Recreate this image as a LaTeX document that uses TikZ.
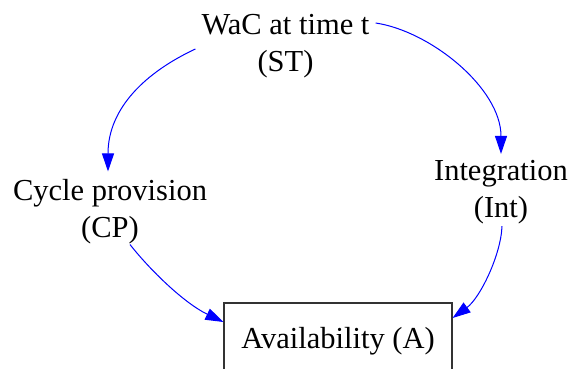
\documentclass[tikz,border=0pt]{standalone}
\usepackage{fontspec}
\setmainfont{Liberation Serif}
\usetikzlibrary{arrows.meta}
\begin{document}
\begin{tikzpicture}[x=1pt,y=-1pt,
  lbl/.style={inner sep=0pt, align=center, font=\fontsize{30.5}{37}\selectfont},
  box/.style={draw=black!80, line width=1.2pt, inner sep=0pt, minimum width=228pt, minimum height=76pt, font=\fontsize{30.5}{37}\selectfont},
  edge/.style={draw=blue, line width=1pt, -{Triangle[length=18pt,width=12pt]}}]
\useasboundingbox (0,0) rectangle (570,369);
\clip (0,0) rectangle (570,369);
\node[lbl] (st) at (285.5,46) {WaC at time t\\(ST)};
\node[lbl] (cp) at (110,212) {Cycle provision\\(CP)};
\node[lbl] (int) at (501,192) {Integration\\(Int)};
\node[box] (a) at (338,341) {Availability (A)};
\draw[edge] ([xshift=-6pt,yshift=-3pt]st.west) .. controls (146,72) and (108,108) .. ([xshift=-2pt,yshift=8pt]cp.north);
\draw[edge] ([xshift=6pt,yshift=23pt]st.east) .. controls (430,31) and (501,88) .. ([yshift=6pt]int.north);
\draw[edge] ([xshift=20pt]cp.south) .. controls (150,270) and (184,303) .. ([yshift=19pt]a.west);
\draw[edge] ([xshift=1pt,yshift=-2pt]int.south) .. controls (501,255) and (480,298) .. ([yshift=23pt]a.east);
\end{tikzpicture}
\end{document}
